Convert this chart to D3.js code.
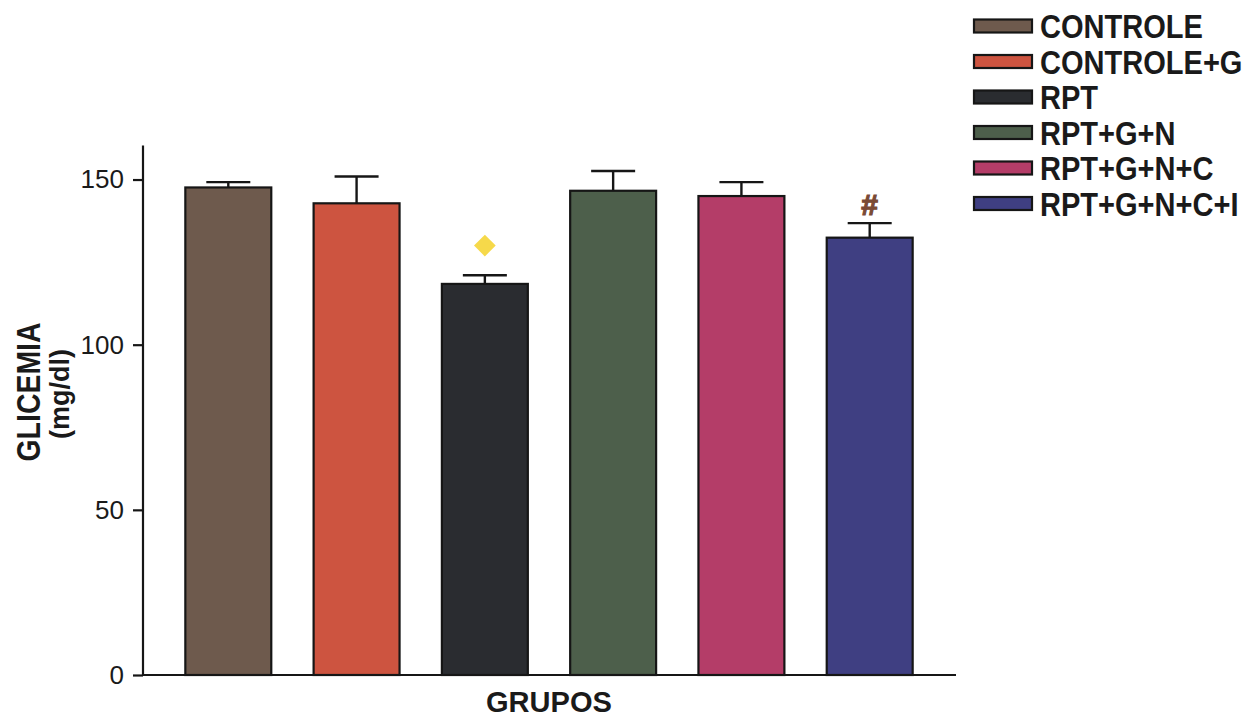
<!DOCTYPE html>
<html>
<head>
<meta charset="utf-8">
<script src="https://cdn.jsdelivr.net/npm/d3@7"></script>
<style>
  html, body { margin: 0; padding: 0; background: #fff; }
  svg { display: block; }
  text { font-family: "Liberation Sans", Arial, Helvetica, sans-serif; fill: #1a1a1a; }
</style>
</head>
<body>
<svg id="chart" width="1253" height="719"></svg>
<script>
const categories = ["CONTROLE", "CONTROLE+G", "RPT", "RPT+G+N", "RPT+G+N+C", "RPT+G+N+C+I"];
const means = [147.6, 142.8, 118.4, 146.6, 145.0, 132.4];
const errors = [1.6, 8.1, 2.6, 6.0, 4.2, 4.4];
const colors = ["#6e5a4d", "#cd5440", "#2a2c30", "#4d5f4b", "#b43d68", "#3f3f82"];
const yTicks = [0, 50, 100, 150];
const markers = [
  { group: "RPT", symbol: "diamond", value: 130 },
  { group: "RPT+G+N+C+I", symbol: "#", value: 142.5 }
];

const svg = d3.select("#chart");

const x = d3.scaleBand().domain(categories).range([143, 955]).paddingInner(0.33).paddingOuter(0.33);
const y = d3.scaleLinear().domain([0, 160]).range([675, 146.5]);

// bars
svg.append("g").selectAll("rect").data(categories).join("rect")
  .attr("x", d => x(d))
  .attr("y", (d, i) => y(means[i]))
  .attr("width", x.bandwidth())
  .attr("height", (d, i) => y(0) - y(means[i]))
  .attr("fill", (d, i) => colors[i])
  .attr("stroke", "#161616")
  .attr("stroke-width", 2.2);

// error bars
const eb = svg.append("g").attr("stroke", "#161616").attr("stroke-width", 2.4);
categories.forEach((c, i) => {
  const cx = x(c) + x.bandwidth() / 2;
  eb.append("line").attr("x1", cx).attr("x2", cx).attr("y1", y(means[i])).attr("y2", y(means[i] + errors[i]));
  eb.append("line").attr("x1", cx - 22).attr("x2", cx + 22).attr("y1", y(means[i] + errors[i])).attr("y2", y(means[i] + errors[i]));
});

// y axis
const yAxis = d3.axisLeft(y).tickValues(yTicks).tickSize(10).tickPadding(9).tickSizeOuter(0);
const gy = svg.append("g").attr("transform", "translate(143,0)").call(yAxis);
gy.select(".domain").attr("stroke", "#161616").attr("stroke-width", 2.2).attr("d", `M0,${y(160) - 1}V${y(0)}`);
gy.selectAll(".tick line").attr("stroke", "#161616").attr("stroke-width", 2.2);
gy.selectAll(".tick text").attr("font-size", 26).attr("fill", "#1a1a1a")
  .attr("font-family", "'Liberation Sans', Arial, sans-serif");

// x axis
const xAxis = d3.axisBottom(x).tickSize(0).tickFormat("").tickSizeOuter(0);
const gx = svg.append("g").attr("transform", `translate(0,${y(0)})`).call(xAxis);
gx.select(".domain").attr("stroke", "#161616").attr("stroke-width", 2.2).attr("d", `M143,0H956`);

// axis titles
svg.append("text")
  .attr("transform", "translate(40,392) rotate(-90)")
  .attr("text-anchor", "middle")
  .attr("font-size", 34).attr("font-weight", "bold")
  .attr("textLength", 139).attr("lengthAdjust", "spacingAndGlyphs")
  .text("GLICEMIA");
svg.append("text")
  .attr("transform", "translate(69,394) rotate(-90)")
  .attr("text-anchor", "middle")
  .attr("font-size", 27).attr("font-weight", "bold")
  .text("(mg/dl)");
svg.append("text")
  .attr("x", 549).attr("y", 712)
  .attr("text-anchor", "middle")
  .attr("font-size", 30).attr("font-weight", "bold")
  .attr("textLength", 126).attr("lengthAdjust", "spacingAndGlyphs")
  .text("GRUPOS");

// significance markers
markers.forEach(m => {
  const cx = x(m.group) + x.bandwidth() / 2;
  const cy = y(m.value);
  if (m.symbol === "diamond") {
    svg.append("path")
      .attr("d", d3.symbol().type(d3.symbolDiamond2).size(300)())
      .attr("transform", `translate(${cx},${cy})`)
      .attr("fill", "#f6d94a");
  } else {
    svg.append("text")
      .attr("x", cx).attr("y", cy + 11)
      .attr("text-anchor", "middle")
      .attr("font-size", 30).attr("font-weight", "bold")
      .attr("stroke", "#7a4a35").attr("stroke-width", 1.2)
      .style("fill", "#7a4a35")
      .text(m.symbol);
  }
});

// legend
const legend = svg.append("g");
categories.forEach((c, i) => {
  const cy = 26 + i * 35.5;
  legend.append("rect")
    .attr("x", 974).attr("y", cy - 6.5).attr("width", 58).attr("height", 13)
    .attr("fill", colors[i]).attr("stroke", "#161616").attr("stroke-width", 2.2);
  legend.append("text")
    .attr("transform", `translate(1040,${cy + 12}) scale(0.88,1)`)
    .attr("font-size", 33).attr("font-weight", "bold")
    .text(c);
});
</script>
</body>
</html>
